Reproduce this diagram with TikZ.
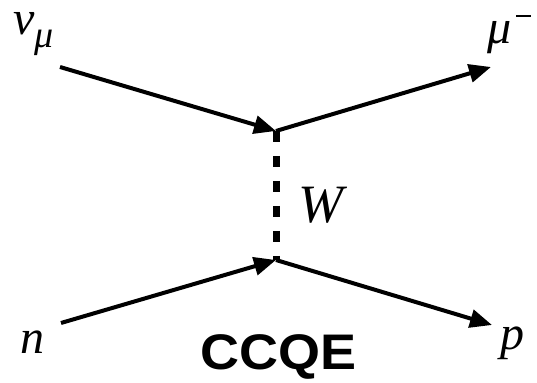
\documentclass[tikz,border=0pt]{standalone}
\usepackage{fontspec}
\setmainfont{Liberation Serif}
\newfontfamily\sansfam{Liberation Sans}
\usetikzlibrary{arrows.meta}
\begin{document}
\begin{tikzpicture}[x=0.5pt,y=-0.5pt,
  fermion/.style={line width=2pt,-{Triangle[length=11pt,width=9pt]}},
  boson/.style={line width=3.5pt,dash pattern=on 5.5pt off 7pt},
  lbl/.style={anchor=base west,inner sep=0pt,font=\fontsize{24}{24}\selectfont\itshape}]
\useasboundingbox (0,0) rectangle (537,383);
\coordinate (a) at (60,67);
\coordinate (v1) at (276,131);
\coordinate (b) at (491,67);
\coordinate (c) at (61,323);
\coordinate (v2) at (276,260);
\coordinate (d) at (492,325);
\draw[fermion] (a) -- (v1);
\draw[fermion] (v1) -- (b);
\draw[fermion] (c) -- (v2);
\draw[fermion] (v2) -- (d);
\draw[boson] (v1) -- (v2);
\node[lbl] (nu) at (13,35) {ν\raisebox{-6.5pt}{\fontsize{19}{19}\selectfont μ}};
\node[lbl,font=\fontsize{24}{24}\selectfont\itshape] (mu) at (487,44) {μ\kern2.5pt\raisebox{13.5pt}{\rule{7.5pt}{1.1pt}}};
\node[lbl,font=\fontsize{27}{27}\selectfont\itshape] (W) at (298,223) {W};
\node[lbl] (n) at (20,354) {n};
\node[lbl] (p) at (500,350) {p};
\node[anchor=base west,inner sep=0pt,xscale=1.08,font=\fontsize{25}{25}\selectfont\sansfam\bfseries] (ccqe) at (200,370) {CCQE};
\end{tikzpicture}
\end{document}
